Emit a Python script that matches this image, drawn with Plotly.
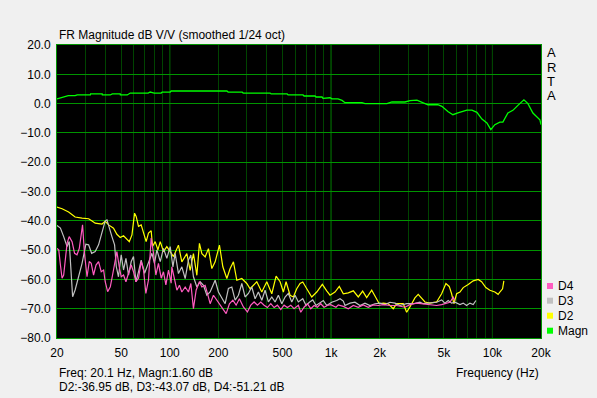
import plotly.graph_objects as go

# ---------------- data ----------------
magn_f = [20, 21.5, 23.5, 25.9, 26.7, 32.2, 32.3, 38.1, 38.2, 42.8, 44, 49.3, 49.4, 54.5, 56.9,
          73.5, 75.6, 80, 88.5, 89.7, 100.7, 102, 226, 230, 281, 285, 419, 425, 534, 541,
          598, 670, 680, 795, 807, 879, 891, 944, 985, 1013, 1104, 1169, 1219, 1554, 1622,
          2218, 2383, 2871, 3083, 3404, 3707, 3981, 4590, 4861, 5293, 5688, 6108, 6947,
          7462, 8013, 8606, 9243, 9772, 10350, 11117, 11610, 12470, 13390, 14380, 15670,
          16600, 17820, 19680, 20000]
magn_db = [1.6, 2.1, 2.7, 2.7, 3.0, 3.0, 3.3, 3.3, 2.95, 2.95, 3.3, 3.3, 2.95, 2.95, 3.6,
           3.6, 3.95, 3.6, 3.6, 3.95, 3.95, 4.3, 4.3, 3.95, 3.95, 3.6, 3.6, 3.3, 3.3, 2.95,
           2.95, 2.95, 2.6, 2.6, 2.25, 2.25, 1.8, 2.0, 2.0, 1.6, 1.6, 1.1, 0.3, 0.3, 0.0,
           0.0, 0.55, 0.55, 1.0, 1.2, 0.4, -0.4, -0.4, -0.95, -2.7, -3.8, -3.2, -2.2,
           -2.2, -3.0, -5.3, -6.6, -8.9, -7.2, -6.3, -6.3, -3.2, -2.3, -0.6, 1.3,
           0.0, -3.2, -5.5, -7.2]

d2_f = [20, 21.5, 23.6, 25.9, 28.6, 31.4, 32.8, 34.5, 38, 39.8, 41.8, 44.8, 47, 49.3, 51.7,
        54.3, 56.1, 58.3, 60.5, 61.9, 64, 66.5, 68.8, 71.4, 73.8, 76.7, 78.2, 81.2, 84.4,
        87.3, 91.4, 95.9, 100.6, 105.4, 113.2, 118.8, 127.6, 133.8, 140.2, 147.2, 152.7,
        158.1, 165.7, 173.7, 182.3, 191.1, 203.2, 213.3, 225.8, 236.7, 248.1, 260.4,
        279.6, 300.2, 314.7, 346.3, 371.9, 399.4, 429, 456.1, 482.9, 506.1, 525.9, 556.8,
        583.5, 612.4, 642, 667.3, 706.5, 758.6, 814.7, 882.4, 939.4, 984.6, 1057, 1124,
        1190, 1278, 1373, 1474, 1569, 1662, 1785, 1898, 1988, 2106, 2262, 2429, 2550,
        2800, 2939, 3080, 3307, 3467, 3640, 3816, 4097, 4508, 4842, 5148, 5397, 5584,
        5771, 5997, 6288, 6590, 7078, 7600, 8159, 8565, 9105, 9640, 10350, 10850, 11117,
        11553, 11770]
d2_db = [-35.3, -35.9, -37.0, -38.7, -39.1, -39.3, -40.0, -40.8, -41.1, -40.2, -41.4, -42.5,
         -44.6, -45.7, -45.1, -46.5, -47.1, -44.8, -37.4, -38.5, -41.9, -41.4, -43.9, -47.1,
         -44.2, -43.4, -48.8, -47.1, -49.9, -47.1, -50.5, -48.8, -50.5, -52.2, -48.3, -54.0,
         -51.2, -56.9, -51.2, -58.6, -47.7, -51.2, -52.3, -49.5, -56.3, -54.0, -48.3, -55.7,
         -59.7, -56.3, -54.0, -60.3, -59.7, -61.4, -63.2, -60.8, -64.3, -60.8, -64.9, -58.9,
         -60.8, -64.3, -60.8, -65.4, -66.0, -63.2, -61.4, -60.9, -63.2, -66.0, -64.3, -61.7,
         -63.9, -65.4, -64.3, -62.4, -64.9, -64.6, -63.9, -66.0, -64.0, -66.2, -63.7, -66.6,
         -68.3, -68.1, -68.3, -70.0, -68.3, -68.3, -71.2, -69.4, -66.3, -65.1, -66.6, -67.7,
         -68.1, -67.7, -64.9, -61.4, -62.4, -64.9, -68.3, -64.9, -64.3, -62.8, -61.7, -60.5,
         -60.0, -60.8, -62.8, -63.7, -64.3, -65.1, -64.3, -63.2, -60.5]

d3_f = [20, 21, 22, 23.1, 23.8, 24.5, 25, 25.9, 27.2, 28.6, 30.2, 31.4, 32.8, 34.5, 36.2, 38,
        39.8, 40.8, 42.1, 43.8, 45.5, 46.6, 48.1, 50, 51.7, 53.5, 55.5, 57.7, 59.6, 61.7, 64,
        66.5, 69.8, 73.2, 77.5, 80.4, 83.2, 87.3, 91.4, 95.9, 100.6, 104.6, 108, 113.2,
        118.8, 124.6, 130.6, 135.1, 140.2, 147.2, 154.3, 161.7, 169.8, 177.9, 191.1, 200.3,
        210.2, 220.4, 231, 242.5, 254.2, 266.4, 279.6, 293, 307.2, 322.4, 338, 354.3, 371.9,
        389.8, 408.6, 429, 449.6, 471.3, 494.7, 518.5, 543.4, 570.4, 597.8, 626.5, 667.3,
        699.5, 733.2, 769.5, 806.7, 853.9, 895, 939.4, 1008.7, 1083, 1135.6, 1190, 1219,
        1310, 1406, 1510, 1622, 1742, 1871, 2009, 2157, 2318, 2489, 2672, 2939, 3228, 3552,
        3724, 4097, 4508, 4842, 5075, 5320, 5584, 5854, 6288, 6590, 6918, 7252, 7600, 7898]
d3_db = [-41.6, -42.5, -45.4, -48.8, -47.1, -59.6, -65.9, -63.6, -59.1, -54.5, -48.0, -48.2,
         -51.1, -50.5, -48.2, -43.7, -40.0, -39.7, -41.9, -45.4, -48.2, -55.6, -59.1, -51.6,
         -56.8, -52.8, -58.5, -53.9, -52.2, -60.8, -57.4, -53.4, -57.9, -54.5, -51.1, -54.5,
         -49.9, -53.9, -49.4, -52.8, -48.8, -55.7, -51.1, -58.0, -55.7, -59.7, -53.4, -51.7,
         -59.1, -62.6, -60.8, -62.0, -65.4, -64.3, -60.3, -64.3, -66.6, -68.3, -63.1, -62.6,
         -67.1, -65.4, -61.4, -66.0, -64.8, -62.6, -66.6, -64.3, -67.1, -63.7, -67.7, -66.0,
         -67.7, -65.4, -68.3, -66.0, -64.8, -67.7, -65.4, -67.7, -66.6, -68.9, -67.8, -67.0,
         -68.9, -67.8, -67.2, -68.9, -67.8, -67.2, -66.6, -67.4, -68.9, -68.1, -67.8, -68.9,
         -68.1, -68.9, -68.3, -68.1, -68.6, -67.8, -68.1, -68.9, -68.3, -68.3, -67.8, -68.3,
         -68.1, -67.8, -67.0, -68.1, -67.2, -68.1, -67.8, -68.6, -68.1, -68.9, -68.1, -68.6,
         -67.2]

d4_f = [20, 20.5, 21, 21.5, 22, 22.5, 23.1, 23.8, 24.8, 25.7, 26.6, 27.5, 28.6, 28.8, 29.6,
        30.7, 31.7, 32.6, 33.7, 34.9, 36.2, 37.6, 38.9, 39.8, 41.2, 42.8, 44.2, 45.9, 47,
        48.6, 50, 51.7, 53.5, 55.5, 57.7, 59.6, 61.7, 64, 66.5, 68.8, 71.1, 73.8, 76.7, 79.3,
        82, 85.1, 88.5, 91.4, 94.6, 98.2, 102, 103, 106.5, 110.7, 114.8, 118.8, 124.6, 130.6,
        135.1, 140.2, 145.7, 152.7, 158.1, 165.7, 171.2, 177.9, 186.5, 195.8, 205.2, 215.1,
        223.6, 234.3, 246, 257.8, 270.2, 286, 302.8, 317.8, 333.2, 349.3, 366.7, 384.3,
        402.8, 422.9, 443.3, 464.7, 487.7, 511.1, 535.8, 562.3, 589.3, 626.5, 648.5, 679.8,
        712.6, 748, 784, 821.7, 862.5, 904, 947.4, 994.4, 1072, 1108, 1190, 1278, 1373, 1474,
        1583, 1700, 1826, 1960, 2106, 2318, 2550, 2869, 3080, 3389, 3724, 4097, 4508, 4842,
        5200, 5450, 5713, 5854]
d4_db = [-49.4, -49.9, -55.1, -59.6, -58.5, -52.8, -47.6, -45.4, -47.1, -51.1, -51.6, -49.4,
         -41.9, -41.4, -51.1, -59.1, -53.9, -54.5, -58.5, -55.1, -53.9, -57.4, -56.8, -60.8,
         -64.2, -62.5, -58.5, -52.8, -50.5, -55.6, -59.1, -58.5, -60.8, -57.9, -55.1, -57.4,
         -60.8, -59.6, -53.9, -56.8, -64.8, -60.2, -45.9, -51.1, -58.5, -54.5, -59.6, -57.4,
         -61.9, -56.8, -61.3, -55.7, -59.1, -63.7, -62.0, -64.3, -62.6, -64.3, -61.4, -70.0,
         -63.7, -60.8, -62.6, -62.0, -64.8, -68.3, -65.4, -67.1, -68.8, -70.0, -71.7, -68.3,
         -67.1, -68.8, -66.6, -69.4, -71.1, -68.8, -67.7, -68.8, -67.7, -68.8, -69.6, -68.3,
         -69.6, -68.8, -70.3, -68.8, -69.6, -68.8, -70.0, -68.8, -71.2, -69.5, -68.3, -70.0,
         -68.9, -69.5, -68.3, -69.5, -68.9, -68.6, -69.5, -68.7, -69.2, -70.0, -68.9, -69.5,
         -68.7, -69.5, -68.7, -68.9, -68.6, -68.9, -68.9, -69.5, -68.6, -68.1, -68.3, -68.6,
         -68.9, -68.6, -68.1, -67.8, -66.1, -67.2]

grid_freqs = [20, 30, 40, 50, 60, 70, 80, 90, 100, 200, 300, 400, 500, 600, 700, 800, 900,
              1000, 2000, 3000, 4000, 5000, 6000, 7000, 8000, 9000, 10000, 20000]
freq_labels = {20: "20", 50: "50", 100: "100", 200: "200", 500: "500", 1000: "1k",
               2000: "2k", 5000: "5k", 10000: "10k", 20000: "20k"}
decade_lines = [100, 1000, 10000]
y_ticks = [20, 10, 0, -10, -20, -30, -40, -50, -60, -70, -80]

title_text = "FR Magnitude dB V/V (smoothed 1/24 oct)"
readout_1 = "Freq: 20.1 Hz, Magn:1.60 dB"
readout_2 = "D2:-36.95 dB, D3:-43.07 dB, D4:-51.21 dB"

# ---------------- styles ----------------
C_MAGN = "#00FF00"
C_D2 = "#FFFF00"
C_D3 = "#C0C0C0"
C_D4 = "#FF5CC0"
GRID_MAJOR = "#009400"
GRID_MINOR = "#004400"
FONT = "Liberation Sans, Arial, sans-serif"

fig = go.Figure()
fig.add_trace(go.Scatter(x=magn_f, y=magn_db, mode="lines", line=dict(color=C_MAGN, width=1.3), name="Magn"))
fig.add_trace(go.Scatter(x=d2_f, y=d2_db, mode="lines", line=dict(color=C_D2, width=1.2), name="D2"))
fig.add_trace(go.Scatter(x=d3_f, y=d3_db, mode="lines", line=dict(color=C_D3, width=1.2), name="D3"))
fig.add_trace(go.Scatter(x=d4_f, y=d4_db, mode="lines", line=dict(color=C_D4, width=1.2), name="D4"))

ticktext = [freq_labels.get(f, "") for f in grid_freqs]

fig.update_layout(
    width=597, height=398,
    margin=dict(l=57, r=56, t=45, b=60),
    paper_bgcolor="#F0F0F0", plot_bgcolor="#000000",
    showlegend=False,
    font=dict(family=FONT, size=12, color="#000000"),
    xaxis=dict(type="log", range=[1.30103, 4.30103], tickvals=grid_freqs, ticktext=ticktext,
               showgrid=True, gridcolor=GRID_MINOR, gridwidth=1, zeroline=False,
               showline=True, linecolor=GRID_MAJOR, linewidth=1, mirror=True,
               ticks="", ticklabelstandoff=4, tickfont=dict(size=12, family=FONT)),
    yaxis=dict(range=[-80, 20], tickvals=y_ticks, tickformat=".1f",
               showgrid=True, gridcolor=GRID_MAJOR, gridwidth=1, zeroline=False,
               showline=True, linecolor=GRID_MAJOR, linewidth=1, mirror=True,
               ticks="", ticklabelstandoff=3, tickfont=dict(size=12, family=FONT)),
)

shapes = []
for f in decade_lines:
    shapes.append(dict(type="line", xref="x", yref="paper", x0=f, x1=f, y0=0, y1=1,
                       line=dict(color=GRID_MAJOR, width=1), layer="below"))

# legend swatches
legend_items = [("D4", C_D4, 286), ("D3", C_D3, 300.7), ("D2", C_D2, 315.7), ("Magn", C_MAGN, 330.7)]
annotations = []
for name, col, py in legend_items:
    yc = (338 - py) / 293
    shapes.append(dict(type="rect", xref="paper", yref="paper",
                       x0=(547 - 57) / 484, x1=(553 - 57) / 484,
                       y0=yc - 3 / 293, y1=yc + 3 / 293,
                       fillcolor=col, line=dict(width=0)))
    annotations.append(dict(text=name, xref="paper", yref="paper", x=(556 - 57) / 484, y=yc,
                            xanchor="left", yanchor="middle", showarrow=False,
                            font=dict(size=12, family=FONT)))

for letter, py in zip("ARTA", [52.7, 67.3, 81.5, 95.5]):
    annotations.append(dict(text=letter, xref="paper", yref="paper", x=(551 - 57) / 484,
                            y=(338 - py) / 293, xanchor="center", yanchor="middle",
                            showarrow=False, font=dict(size=13, family=FONT)))

annotations.append(dict(text=title_text, xref="paper", yref="paper", x=0, y=(338 - 35) / 293,
                        xanchor="left", yanchor="middle", showarrow=False,
                        font=dict(size=12, family=FONT)))
annotations.append(dict(text=readout_1, xref="paper", yref="paper", x=0, y=(338 - 373) / 293,
                        xanchor="left", yanchor="middle", showarrow=False,
                        font=dict(size=12, family=FONT)))
annotations.append(dict(text=readout_2, xref="paper", yref="paper", x=0, y=(338 - 387) / 293,
                        xanchor="left", yanchor="middle", showarrow=False,
                        font=dict(size=12, family=FONT)))
annotations.append(dict(text="Frequency (Hz)", xref="paper", yref="paper", x=1, y=(338 - 373) / 293,
                        xanchor="right", yanchor="middle", showarrow=False,
                        font=dict(size=12, family=FONT)))

fig.update_layout(shapes=shapes, annotations=annotations)
fig.write_html("out.html", config={"displayModeBar": False},
               post_script="document.body.style.margin='0px';document.body.style.overflow='hidden';")
